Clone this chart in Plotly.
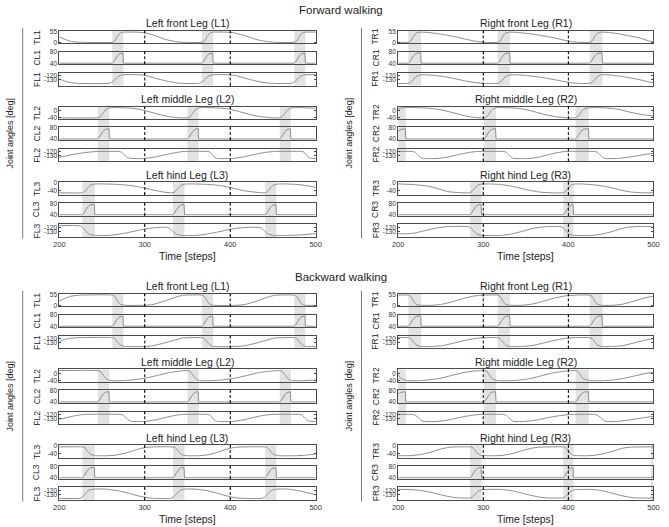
import plotly.graph_objects as go

W, H = 669, 527
FONT = "Liberation Sans, Arial, sans-serif"

# ---------------- data ----------------
T_RANGE = [200, 500]
X_TICKS = [200, 300, 400, 500]

# y-axis settings per joint row
Y_T1 = dict(range=[-5, 58], tickvals=[0, 55])
Y_T2 = dict(range=[-50, 21], tickvals=[-40, 0])
Y_T3 = dict(range=[-66, 4], tickvals=[-40, 0])
Y_C = dict(range=[37, 82], tickvals=[40, 80])
Y_F = dict(range=[-144, -113], tickvals=[-130, -120])

# swing-phase bands (steps)
BANDS_L1 = [(262, 275), (367, 380), (475, 488)]
BANDS_L2 = [(245, 258.5), (350, 363), (458, 471)]
BANDS_L3 = [(227, 241.5), (333, 346.5), (441, 454)]
BANDS_R1 = [(212, 227), (317, 331.5), (425, 440)]
BANDS_R2 = [(200, 209), (301, 315), (408.5, 424)]
BANDS_R3_FW = [(284.5, 298), (394, 406)]
BANDS_R3_BW = [(284.5, 298), (394, 406), (497, 500)]

# ---- forward walking ----
fw_TL1 = [(200, 28), (206, 16), (213, 6), (220, 1.5), (228, 0.5), (262, 0.5), (265, 8), (268, 30), (271, 46), (275, 51),
          (290, 51), (300, 48), (312, 34), (324, 15), (336, 4), (345, 0.5), (367, 0.5), (370, 8), (373, 30), (376, 46),
          (380, 51), (395, 51), (404, 48), (417, 34), (430, 15), (443, 4), (453, 0.5), (475, 0.5), (478, 8), (481, 30),
          (484, 46), (488, 51), (500, 51)]
fw_CL1 = [(200, 40.5), (262, 40.5), (264, 47), (266, 58), (268, 67), (270, 73), (272, 76), (274.5, 77), (275, 40.5),
          (367, 40.5), (369, 47), (371, 58), (373, 67), (375, 73), (377, 76), (379.5, 77), (380, 40.5),
          (475, 40.5), (477, 47), (479, 58), (481, 67), (483, 73), (485, 76), (487.5, 77), (488, 40.5), (500, 40.5)]
fw_FL1 = [(200, -128), (206, -133), (214, -137), (224, -139), (257, -139), (261, -137), (265, -130), (269, -122),
          (274, -118), (290, -117.5), (300, -119), (312, -126), (325, -133), (337, -137.5), (346, -139), (362, -139),
          (366, -137), (370, -130), (374, -122), (379, -118), (395, -117.5), (405, -119), (417, -126), (430, -133),
          (442, -137.5), (452, -139), (470, -139), (474, -137), (478, -130), (482, -122), (487, -118), (500, -117.5)]
fw_TL2 = [(200, -42), (245, -42), (248, -36), (251, -18), (254, 2), (258, 13), (265, 15), (280, 13), (292, 7),
          (305, -8), (318, -25), (330, -37), (341, -42), (350, -42), (353, -36), (356, -18), (359, 2), (363, 13),
          (370, 15), (385, 13), (398, 7), (411, -8), (424, -25), (437, -37), (448, -42), (458, -42), (461, -36),
          (464, -18), (467, 2), (471, 13), (478, 15), (492, 13), (500, 11)]
fw_CL2 = [(200, 40.5), (245, 40.5), (247, 47), (249, 58), (251, 67), (253, 73), (255, 76), (258, 77), (258.5, 40.5),
          (350, 40.5), (352, 47), (354, 58), (356, 67), (358, 73), (360, 76), (362.5, 77), (363, 40.5),
          (458, 40.5), (460, 47), (462, 58), (464, 67), (466, 73), (468, 76), (470.5, 77), (471, 40.5), (500, 40.5)]
fw_FL2 = [(200, -134), (210, -130), (222, -125), (235, -121.5), (245, -120), (270, -120), (273, -122), (276, -128),
          (279, -134), (283, -137), (300, -137), (312, -133.5), (325, -127.5), (337, -122.5), (346, -120),
          (374, -120), (376.5, -122), (379, -128), (381.5, -134), (385, -137), (403, -137), (415, -133.5),
          (428, -127.5), (440, -122.5), (452, -120), (484, -120), (486.5, -122), (489, -128), (491.5, -134),
          (495, -137), (500, -137)]
fw_TL3 = [(200, -54), (227, -54), (230, -46), (233, -28), (236, -13), (241, -6), (250, -5), (270, -8), (285, -15),
          (300, -28), (312, -41), (322, -50), (330, -54), (333, -54), (336, -46), (339, -28), (342, -13), (347, -6),
          (356, -5), (375, -8), (390, -15), (403, -28), (417, -43), (430, -51), (441, -54), (444, -46), (447, -28),
          (450, -13), (455, -6), (464, -5), (478, -8), (490, -15), (500, -24)]
fw_CL3 = [(200, 40.5), (227, 40.5), (229, 47), (231, 58), (233, 67), (235, 73), (237, 76), (241, 77), (241.5, 40.5),
          (333, 40.5), (335, 47), (337, 58), (339, 67), (341, 73), (343, 76), (346, 77), (346.5, 40.5),
          (441, 40.5), (443, 47), (445, 58), (447, 67), (449, 73), (451, 76), (453.5, 77), (454, 40.5), (500, 40.5)]
fw_FL3 = [(200, -116), (222, -116), (226, -118), (229, -124), (232, -132), (236, -138), (242, -140), (258, -140),
          (270, -137), (285, -131), (298, -125), (310, -121.5), (322, -120), (327, -121), (330, -124), (333, -131),
          (337, -137), (343, -140), (360, -140), (372, -137), (387, -131), (400, -125), (412, -121.5), (425, -120),
          (435, -121), (438, -124), (441, -131), (445, -137), (451, -140), (465, -140), (480, -139), (490, -137.5),
          (500, -135.5)]
fw_TR1 = [(200, 0.5), (212, 0.5), (215, 8), (218, 30), (221, 46), (226, 51), (235, 49.5), (250, 41), (266, 29),
          (278, 17), (289, 7), (301, 0.5), (317, 0.5), (320, 8), (323, 30), (326, 46), (331, 51), (340, 49.5),
          (351, 45), (366, 36), (382, 24), (394, 12), (405, 3), (415, 0.5), (425, 0.5), (428, 8), (431, 30),
          (434, 46), (439, 51), (447, 49.5), (460, 42), (472, 32), (484, 22), (494, 8), (500, 2)]
fw_CR1 = [(200, 40.5), (212, 40.5), (214, 47), (216, 58), (218, 67), (220, 73), (222, 76), (226.5, 77), (227, 40.5),
          (317, 40.5), (319, 47), (321, 58), (323, 67), (325, 73), (327, 76), (331, 77), (331.5, 40.5),
          (425, 40.5), (427, 47), (429, 58), (431, 67), (433, 73), (435, 76), (439.5, 77), (440, 40.5), (500, 40.5)]
fw_FR1 = [(200, -139), (211, -139), (214, -137), (218, -130), (221, -122), (226, -118), (235, -118), (250, -121),
          (266, -127), (278, -132.5), (289, -136.5), (301, -139), (316, -139), (319, -137), (323, -130), (326, -122),
          (331, -118), (340, -118), (351, -119.5), (366, -123.5), (382, -129), (394, -134), (405, -138), (415, -139),
          (424, -139), (427, -137), (431, -130), (434, -122), (439, -118), (447, -118), (460, -121), (472, -125),
          (484, -130), (494, -135), (500, -137)]
fw_TR2 = [(200, 5), (203, 12), (209, 15), (220, 15), (235, 12), (250, 3), (263, -12), (276, -28), (286, -38),
          (295, -42), (301, -42), (304, -36), (307, -18), (310, 2), (314, 13), (320, 15), (335, 13), (348, 6),
          (360, -8), (373, -25), (386, -37), (397, -42), (408, -42), (411, -36), (414, -18), (417, 2), (422, 13),
          (430, 15), (445, 13), (458, 6), (470, -8), (482, -20), (492, -28), (500, -32)]
fw_CR2 = [(200, 68), (203, 74), (206, 76), (208.5, 77), (209, 40.5), (301, 40.5), (303, 47), (305, 58), (307, 67),
          (309, 73), (311, 76), (314.5, 77), (315, 40.5), (408.5, 40.5), (410.5, 47), (412.5, 58), (414.5, 67),
          (416.5, 73), (418.5, 76), (423.5, 77), (424, 40.5), (500, 40.5)]
fw_FR2 = [(200, -120), (217, -120), (220, -122), (223, -128), (226, -134), (229, -137), (247, -137), (259, -133.5),
          (271, -127.5), (283, -122.5), (293, -120), (324, -120), (327, -122), (330, -128), (333, -134), (336, -137),
          (355, -137), (366, -133.5), (377, -127.5), (388, -122.5), (397, -120), (431, -120), (434, -122),
          (437, -128), (440, -134), (443, -137), (458, -137), (470, -134), (482, -130), (492, -126.5), (500, -124.5)]
fw_TR3 = [(200, -5), (215, -8), (235, -17), (247, -32), (258, -47), (270, -53), (284, -54), (287, -46), (290, -28),
          (293, -13), (298, -6), (306, -5), (320, -8), (336, -20), (350, -36), (366, -50), (380, -54), (394, -54),
          (397, -46), (400, -28), (403, -13), (407, -6), (414, -5), (430, -10), (447, -22), (462, -40), (474, -50),
          (488, -54), (500, -54)]
fw_CR3 = [(200, 40.5), (284.5, 40.5), (286.5, 47), (288.5, 58), (290.5, 67), (292.5, 73), (294.5, 76), (297.5, 77),
          (298, 40.5), (394, 40.5), (396, 47), (398, 58), (400, 67), (402, 73), (404, 76), (405.5, 77), (406, 40.5),
          (500, 40.5)]
fw_FR3 = [(200, -136), (210, -136), (220, -134), (232, -128), (245, -122), (258, -118.5), (270, -118), (282, -118.5),
          (285, -121), (288, -127), (291, -134), (294, -138), (299, -140), (321, -140), (333, -136.5), (346, -130),
          (358, -123), (371, -119), (385, -118), (392, -119), (395, -124), (398, -131), (401, -137), (406, -140),
          (428, -140), (440, -136.5), (452, -130), (463, -123), (474, -119), (490, -118), (497, -118.5), (500, -121)]

# ---- backward walking ----
bw_TL1 = [(200, 22), (206, 34), (213, 45), (222, 50.5), (262, 51), (265, 44), (268, 22), (271, 6), (276, 0.5),
          (300, 0.5), (310, 5), (322, 20), (334, 38), (344, 50), (367, 51), (370, 44), (373, 22), (376, 6),
          (380, 0.5), (408, 0.5), (418, 5), (430, 20), (442, 38), (452, 50), (475, 51), (478, 44), (481, 22),
          (484, 6), (488, 0.5), (500, 0.5)]
bw_CL1 = fw_CL1
bw_FL1 = [(200, -127), (206, -122), (213, -119), (222, -117.5), (262, -117.5), (265, -120), (268, -128), (271, -135),
          (276, -139), (300, -139), (310, -137), (322, -131), (334, -124), (344, -118.5), (367, -117.5), (370, -120),
          (373, -128), (376, -135), (380, -139), (408, -139), (418, -137), (430, -131), (442, -124), (452, -118.5),
          (475, -117.5), (478, -120), (481, -128), (484, -135), (488, -139), (500, -139)]
bw_TL2 = [(200, 15), (245, 15), (248, 11), (251, -8), (254, -28), (258.5, -40), (270, -42), (285, -38), (300, -28),
          (315, -12), (328, 3), (340, 12), (350, 15), (353, 11), (356, -8), (359, -28), (363, -40), (375, -42),
          (390, -38), (405, -28), (420, -12), (433, 3), (447, 12), (458, 15), (461, 11), (464, -8), (467, -28),
          (471, -40), (483, -42), (500, -38)]
bw_CL2 = fw_CL2
bw_FL2 = [(200, -132), (210, -127), (220, -122.5), (228, -120), (272, -120), (275, -122), (278, -128), (281, -134),
          (285, -137), (300, -137), (312, -133.5), (324, -127.5), (335, -122.5), (344, -120), (374, -120),
          (376.5, -122), (379, -128), (381.5, -134), (385, -137), (403, -137), (415, -133.5), (427, -127.5),
          (438, -122.5), (449, -120), (482, -120), (484.5, -122), (487, -128), (490, -134), (494, -137), (500, -137)]
bw_TL3 = [(200, -5), (227, -5), (230, -10), (233, -28), (236, -44), (241, -53), (255, -54), (265, -51), (277, -40),
          (289, -22), (300, -9), (310, -5), (333, -5), (336, -10), (339, -28), (342, -44), (347, -53), (362, -54),
          (372, -50), (383, -38), (394, -20), (405, -8), (415, -5), (441, -5), (444, -10), (447, -28), (450, -44),
          (455, -53), (475, -54), (488, -51), (500, -44)]
bw_CL3 = fw_CL3
bw_FL3 = [(200, -140), (223, -140), (226, -138), (229, -132), (232, -124), (236, -119), (242, -117), (255, -117.5),
          (268, -121), (282, -128), (295, -135), (305, -139), (313, -140), (330, -140), (333, -138), (336, -132),
          (339, -124), (343, -119), (349, -117), (360, -117.5), (373, -121), (386, -128), (398, -135), (408, -139),
          (418, -140), (437, -140), (440, -138), (443, -132), (446, -124), (450, -119), (456, -117), (468, -117.5),
          (480, -121), (492, -127), (500, -131)]
bw_TR1 = [(200, 51), (212, 51), (215, 44), (218, 22), (221, 6), (226, 0.5), (240, 0.5), (252, 6), (265, 20),
          (278, 36), (290, 47), (301, 51), (317, 51), (320, 44), (323, 22), (326, 6), (331, 0.5), (345, 0.5),
          (357, 6), (370, 20), (383, 36), (396, 47), (408, 51), (425, 51), (428, 44), (431, 22), (434, 6),
          (439, 0.5), (452, 0.5), (464, 6), (476, 20), (488, 35), (500, 46)]
bw_CR1 = fw_CR1
bw_FR1 = [(200, -117.5), (212, -117.5), (215, -120), (218, -128), (221, -135), (226, -139), (240, -139), (252, -137),
          (265, -131), (278, -124.5), (290, -119.5), (301, -117.5), (317, -117.5), (320, -120), (323, -128),
          (326, -135), (331, -139), (345, -139), (357, -137), (370, -131), (383, -124.5), (396, -119.5),
          (408, -117.5), (425, -117.5), (428, -120), (431, -128), (434, -135), (439, -139), (452, -139), (464, -137),
          (476, -131), (488, -124.5), (500, -120)]
bw_TR2 = [(200, -10), (203, -28), (209, -40), (220, -42), (235, -38), (250, -28), (263, -12), (276, 3), (288, 12),
          (301, 15), (304, 11), (307, -8), (310, -28), (315, -40), (328, -42), (343, -38), (357, -28), (370, -12),
          (383, 3), (396, 12), (408, 15), (411, 11), (414, -8), (417, -28), (424, -40), (437, -42), (452, -38),
          (466, -28), (478, -15), (490, -2), (500, 6)]
bw_CR2 = fw_CR2
bw_FR2 = [(200, -120), (217, -120), (220, -122), (224, -128), (227, -134), (230, -137), (247, -137), (259, -133.5),
          (272, -127.5), (285, -122.5), (297, -120), (324, -120), (327, -122), (330, -128), (333, -134), (336, -137),
          (350, -137), (363, -133.5), (377, -127.5), (391, -122.5), (404, -120), (431, -120), (434, -122),
          (438, -128), (441, -134), (444, -137), (458, -137), (470, -134), (482, -130), (492, -127), (500, -125)]
bw_TR3 = [(200, -54), (215, -53), (228, -46), (240, -32), (250, -17), (260, -7), (270, -5), (285, -5), (288, -10),
          (291, -28), (294, -44), (298, -52), (310, -54), (322, -52), (334, -42), (346, -26), (357, -12), (367, -6),
          (380, -5), (394, -5), (397, -10), (400, -28), (403, -44), (407, -52), (420, -54), (430, -52), (442, -42),
          (454, -26), (464, -12), (474, -6), (500, -5)]
bw_CR3 = [(200, 40.5), (284.5, 40.5), (286.5, 47), (288.5, 58), (290.5, 67), (292.5, 73), (294.5, 76), (297.5, 77),
          (298, 40.5), (394, 40.5), (396, 47), (398, 58), (400, 67), (402, 73), (404, 76), (405.5, 77), (406, 40.5),
          (497, 40.5), (500, 46)]
bw_FR3 = [(200, -118), (215, -118.5), (228, -121), (240, -126), (252, -132), (262, -136.5), (272, -139), (284, -139),
          (287, -137), (290, -131), (293, -124), (298, -119), (321, -118), (333, -121), (345, -127), (357, -133),
          (368, -137.5), (378, -139), (393, -139), (396, -137), (399, -131), (402, -124), (407, -119), (427, -118),
          (439, -121), (451, -127), (462, -133), (473, -137.5), (483, -139), (497, -139), (500, -137)]

SERIES = {
    "fw": {"L": [[fw_TL1, fw_CL1, fw_FL1], [fw_TL2, fw_CL2, fw_FL2], [fw_TL3, fw_CL3, fw_FL3]],
           "R": [[fw_TR1, fw_CR1, fw_FR1], [fw_TR2, fw_CR2, fw_FR2], [fw_TR3, fw_CR3, fw_FR3]]},
    "bw": {"L": [[bw_TL1, bw_CL1, bw_FL1], [bw_TL2, bw_CL2, bw_FL2], [bw_TL3, bw_CL3, bw_FL3]],
           "R": [[bw_TR1, bw_CR1, bw_FR1], [bw_TR2, bw_CR2, bw_FR2], [bw_TR3, bw_CR3, bw_FR3]]},
}
BANDS = {
    "fw": {"L": [BANDS_L1, BANDS_L2, BANDS_L3], "R": [BANDS_R1, BANDS_R2, BANDS_R3_FW]},
    "bw": {"L": [BANDS_L1, BANDS_L2, BANDS_L3], "R": [BANDS_R1, BANDS_R2, BANDS_R3_BW]},
}
HALF_TITLES = {"fw": "Forward walking", "bw": "Backward walking"}
LEG_TITLES = {"L": ["Left front Leg (L1)", "Left middle Leg (L2)", "Left hind Leg (L3)"],
              "R": ["Right front Leg (R1)", "Right middle Leg (R2)", "Right hind Leg (R3)"]}
JOINT_LABELS = {"L": [["TL1", "CL1", "FL1"], ["TL2", "CL2", "FL2"], ["TL3", "CL3", "FL3"]],
                "R": [["TR1", "CR1", "FR1"], ["TR2", "CR2", "FR2"], ["TR3", "CR3", "FR3"]]}
Y_CFG = [[Y_T1, Y_C, Y_F], [Y_T2, Y_C, Y_F], [Y_T3, Y_C, Y_F]]
X_LABEL = "Time [steps]"
Y_LABEL = "Joint angles [deg]"

# ---------------- layout geometry (pixels) ----------------
HALF_OFF = {"fw": 0.0, "bw": 265.5}
HALF_TITLE_Y = {"fw": 7.5, "bw": 277}
COLS = {"L": (54.3, 315.3), "R": (399.3, 659.3)}
GROUP_TOPS = [28, 104.5, 181]
ROW_OFF = [0, 21, 42.5]
BOX_H = 12.8

AX_COL = "#4a4a4a"
LINE_COL = "#8c8c8c"
BAND_COL = "#e2e2e2"
TXT = "#222222"


def px(x):
    return x / W


def py(y):
    return 1 - y / H


fig = go.Figure()
layout = dict(width=W, height=H, margin=dict(l=0, r=0, t=0, b=0), paper_bgcolor="white",
              plot_bgcolor="rgba(0,0,0,0)", showlegend=False, font=dict(family=FONT, color=TXT))
shapes, annotations = [], []

n = 0
for half in ["fw", "bw"]:
    off = HALF_OFF[half]
    annotations.append(dict(text=HALF_TITLES[half], x=px(341), y=py(HALF_TITLE_Y[half]), xref="paper",
                            yref="paper", showarrow=False, xanchor="center", yanchor="middle",
                            font=dict(size=11.5, color=TXT)))
    for col in ["L", "R"]:
        x0, x1 = COLS[col]
        line_x = x0 - 37.3
        top_y = GROUP_TOPS[0] + off - 3
        bot_y = GROUP_TOPS[2] + ROW_OFF[2] + BOX_H + off + 1.5
        shapes.append(dict(type="line", xref="paper", yref="paper", x0=px(line_x), x1=px(line_x),
                           y0=py(top_y), y1=py(bot_y), line=dict(color="#7a7a7a", width=1)))
        annotations.append(dict(text=Y_LABEL, x=px(line_x - 12.5), y=py((top_y + bot_y) / 2), xref="paper",
                                yref="paper", showarrow=False, textangle=-90, xanchor="center",
                                yanchor="middle", font=dict(size=9, color=TXT)))
        annotations.append(dict(text=X_LABEL, x=px((x0 + x1) / 2), y=py(255 + off), xref="paper", yref="paper",
                                showarrow=False, xanchor="center", yanchor="middle", font=dict(size=10.5, color=TXT)))
        for leg in range(3):
            gtop = GROUP_TOPS[leg] + off
            annotations.append(dict(text=LEG_TITLES[col][leg], x=px((x0 + x1) / 2), y=py(gtop - 7.5),
                                    xref="paper", yref="paper", showarrow=False, xanchor="center",
                                    yanchor="middle", font=dict(size=10.5, color=TXT)))
            leg_xref = None
            for j in range(3):
                n += 1
                xid = "x" if n == 1 else f"x{n}"
                yid = "y" if n == 1 else f"y{n}"
                xkey = "xaxis" if n == 1 else f"xaxis{n}"
                ykey = "yaxis" if n == 1 else f"yaxis{n}"
                if j == 0:
                    leg_xref = xid
                top = gtop + ROW_OFF[j]
                cfg = Y_CFG[leg][j]
                bottom_row = (leg == 2 and j == 2)
                layout[xkey] = dict(domain=[px(x0), px(x1)], range=T_RANGE, anchor=yid, tickvals=X_TICKS,
                                    ticktext=[str(v) for v in X_TICKS], ticks="inside", ticklen=2,
                                    tickcolor=AX_COL, showline=True, linecolor=AX_COL, linewidth=1,
                                    mirror="ticks", showgrid=False, zeroline=False,
                                    showticklabels=bottom_row, tickfont=dict(size=7.5, color="#333"),
                                    fixedrange=True)
                layout[ykey] = dict(domain=[py(top + BOX_H), py(top)], range=cfg["range"], anchor=xid,
                                    tickvals=cfg["tickvals"], ticktext=[str(v) for v in cfg["tickvals"]],
                                    ticks="inside", ticklen=2, tickcolor=AX_COL, showline=True,
                                    linecolor=AX_COL, linewidth=1, mirror="ticks", showgrid=False,
                                    zeroline=False, tickfont=dict(size=6.5, color="#333"), fixedrange=True)
                pts = SERIES[half][col][leg][j]
                fig.add_trace(go.Scatter(x=[p[0] for p in pts], y=[p[1] for p in pts], xaxis=xid, yaxis=yid,
                                         mode="lines", hoverinfo="skip",
                                         line=dict(color=LINE_COL, width=1,
                                                   shape="linear" if j == 1 else "spline",
                                                   smoothing=0.5)))
                for xv in (300, 400):
                    shapes.append(dict(type="line", xref=xid, yref=f"{yid} domain", x0=xv, x1=xv, y0=0, y1=1,
                                       line=dict(color="black", width=1, dash="3px,2px")))
                annotations.append(dict(text=JOINT_LABELS[col][leg][j], x=px(x0 - 23), y=py(top + BOX_H / 2),
                                        xref="paper", yref="paper", showarrow=False, textangle=-90,
                                        xanchor="center", yanchor="middle", font=dict(size=8.5, color=TXT)))
            gbot = gtop + ROW_OFF[2] + BOX_H
            for (b0, b1) in BANDS[half][col][leg]:
                shapes.append(dict(type="rect", xref=leg_xref, yref="paper", x0=b0, x1=b1, y0=py(gbot),
                                   y1=py(gtop), fillcolor=BAND_COL, line=dict(width=0), layer="below"))

layout["shapes"] = shapes
layout["annotations"] = annotations
fig.update_layout(**layout)
fig.write_html("out.html", config={"displayModeBar": False},
               post_script="document.body.style.margin='0px';")
